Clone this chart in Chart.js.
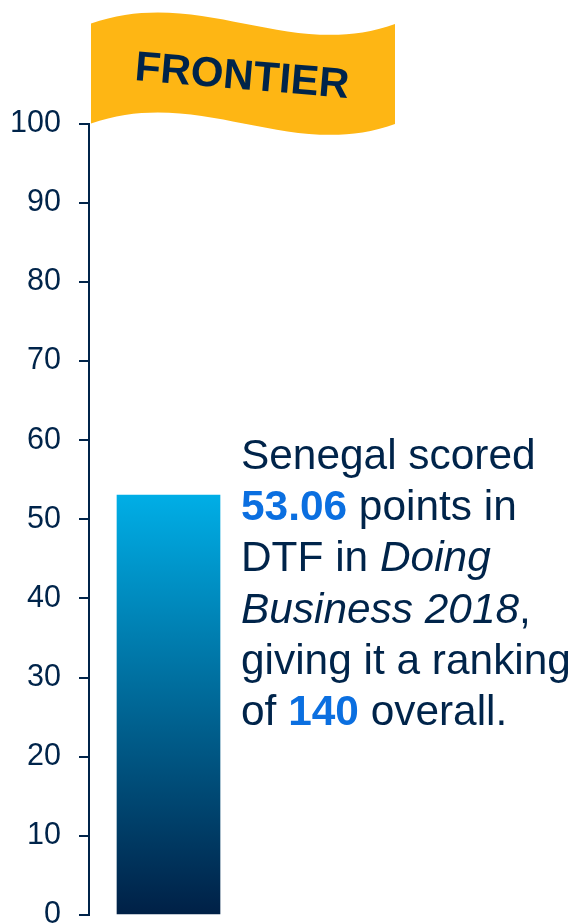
<!DOCTYPE html>
<html>
<head>
<meta charset="utf-8">
<script src="https://cdn.jsdelivr.net/npm/chart.js@4"></script>
<style>
    html, body { margin: 0; padding: 0; background: #fff; overflow: hidden; }
    #wrap { position: relative; width: 574px; height: 924px; overflow: hidden; }
    #note {
        position: absolute; left: 241px; top: 429px; width: 333px;
        font: 42.4px/51.2px "Liberation Sans", Arial, sans-serif;
        color: #00244a; white-space: nowrap;
    }
    #note b { color: #0b6fe0; }
</style>
</head>
<body>
<div id="wrap">
    <canvas id="dtfChart" width="574" height="924"></canvas>
    <div id="note">
        Senegal scored<br>
        <b>53.06</b> points in<br>
        DTF in <i>Doing</i><br>
        <i>Business 2018</i>,<br>
        giving it a ranking<br>
        of <b>140</b> overall.
    </div>
</div>
<script>
const categories = ['Senegal'];
const scores = [53.06];
const yTicks = [0, 10, 20, 30, 40, 50, 60, 70, 80, 90, 100];
const flagLabel = 'FRONTIER';

const NAVY = '#00244a';

// Flag on top of the axis, just decoration
const flagPlugin = {
    id: 'flag',
    afterDraw(chart) {
        const ctx = chart.ctx;
        ctx.save();
        ctx.fillStyle = '#feb614';
        ctx.beginPath();
        ctx.moveTo(91, 23.5);
        ctx.bezierCurveTo(200, -15, 290, 62, 395, 24);
        ctx.lineTo(395, 124);
        ctx.bezierCurveTo(290, 162, 200, 85, 91, 123.5);
        ctx.closePath();
        ctx.fill();

        ctx.translate(134, 80);
        ctx.rotate(4.8 * Math.PI / 180);
        ctx.fillStyle = NAVY;
        ctx.font = 'bold 42px "Liberation Sans", Arial, sans-serif';
        ctx.textAlign = 'left';
        ctx.textBaseline = 'alphabetic';
        ctx.fillText(flagLabel, 0, 0);
        ctx.restore();
    }
};

const chart = new Chart(document.getElementById('dtfChart').getContext('2d'), {
    type: 'bar',
    data: {
        labels: categories,
        datasets: [{
            label: 'DTF score',
            data: scores,
            barThickness: 103,
            backgroundColor: (context) => {
                const { chart, parsed } = context;
                if (!chart.chartArea || !parsed) return '#00aee4';
                const y = chart.scales.y;
                const gradient = chart.ctx.createLinearGradient(0, y.getPixelForValue(parsed.y), 0, y.getPixelForValue(0));
                gradient.addColorStop(0, '#00aee6');
                gradient.addColorStop(1, '#002046');
                return gradient;
            }
        }]
    },
    options: {
        responsive: false,
        animation: false,
        layout: { padding: { left: 0, top: 123.5, right: 326, bottom: 9 } },
        plugins: { legend: { display: false }, tooltip: { enabled: false } },
        scales: {
            x: { display: false },
            y: {
                min: 0,
                max: 100,
                afterBuildTicks: (scale) => { scale.ticks = yTicks.map(value => ({ value })); },
                afterFit: (scale) => {
                    scale.width = 89;
                    scale.paddingTop = 0;
                    scale.paddingBottom = 0;
                },
                grid: { drawOnChartArea: false, drawTicks: true, tickLength: 10, color: NAVY, lineWidth: 2 },
                border: { display: true, color: NAVY, width: 2 },
                ticks: {
                    color: NAVY,
                    padding: 18,
                    font: { family: '"Liberation Sans", Arial, sans-serif', size: 30.5 }
                }
            }
        }
    },
    plugins: [flagPlugin]
});
</script>
</body>
</html>
